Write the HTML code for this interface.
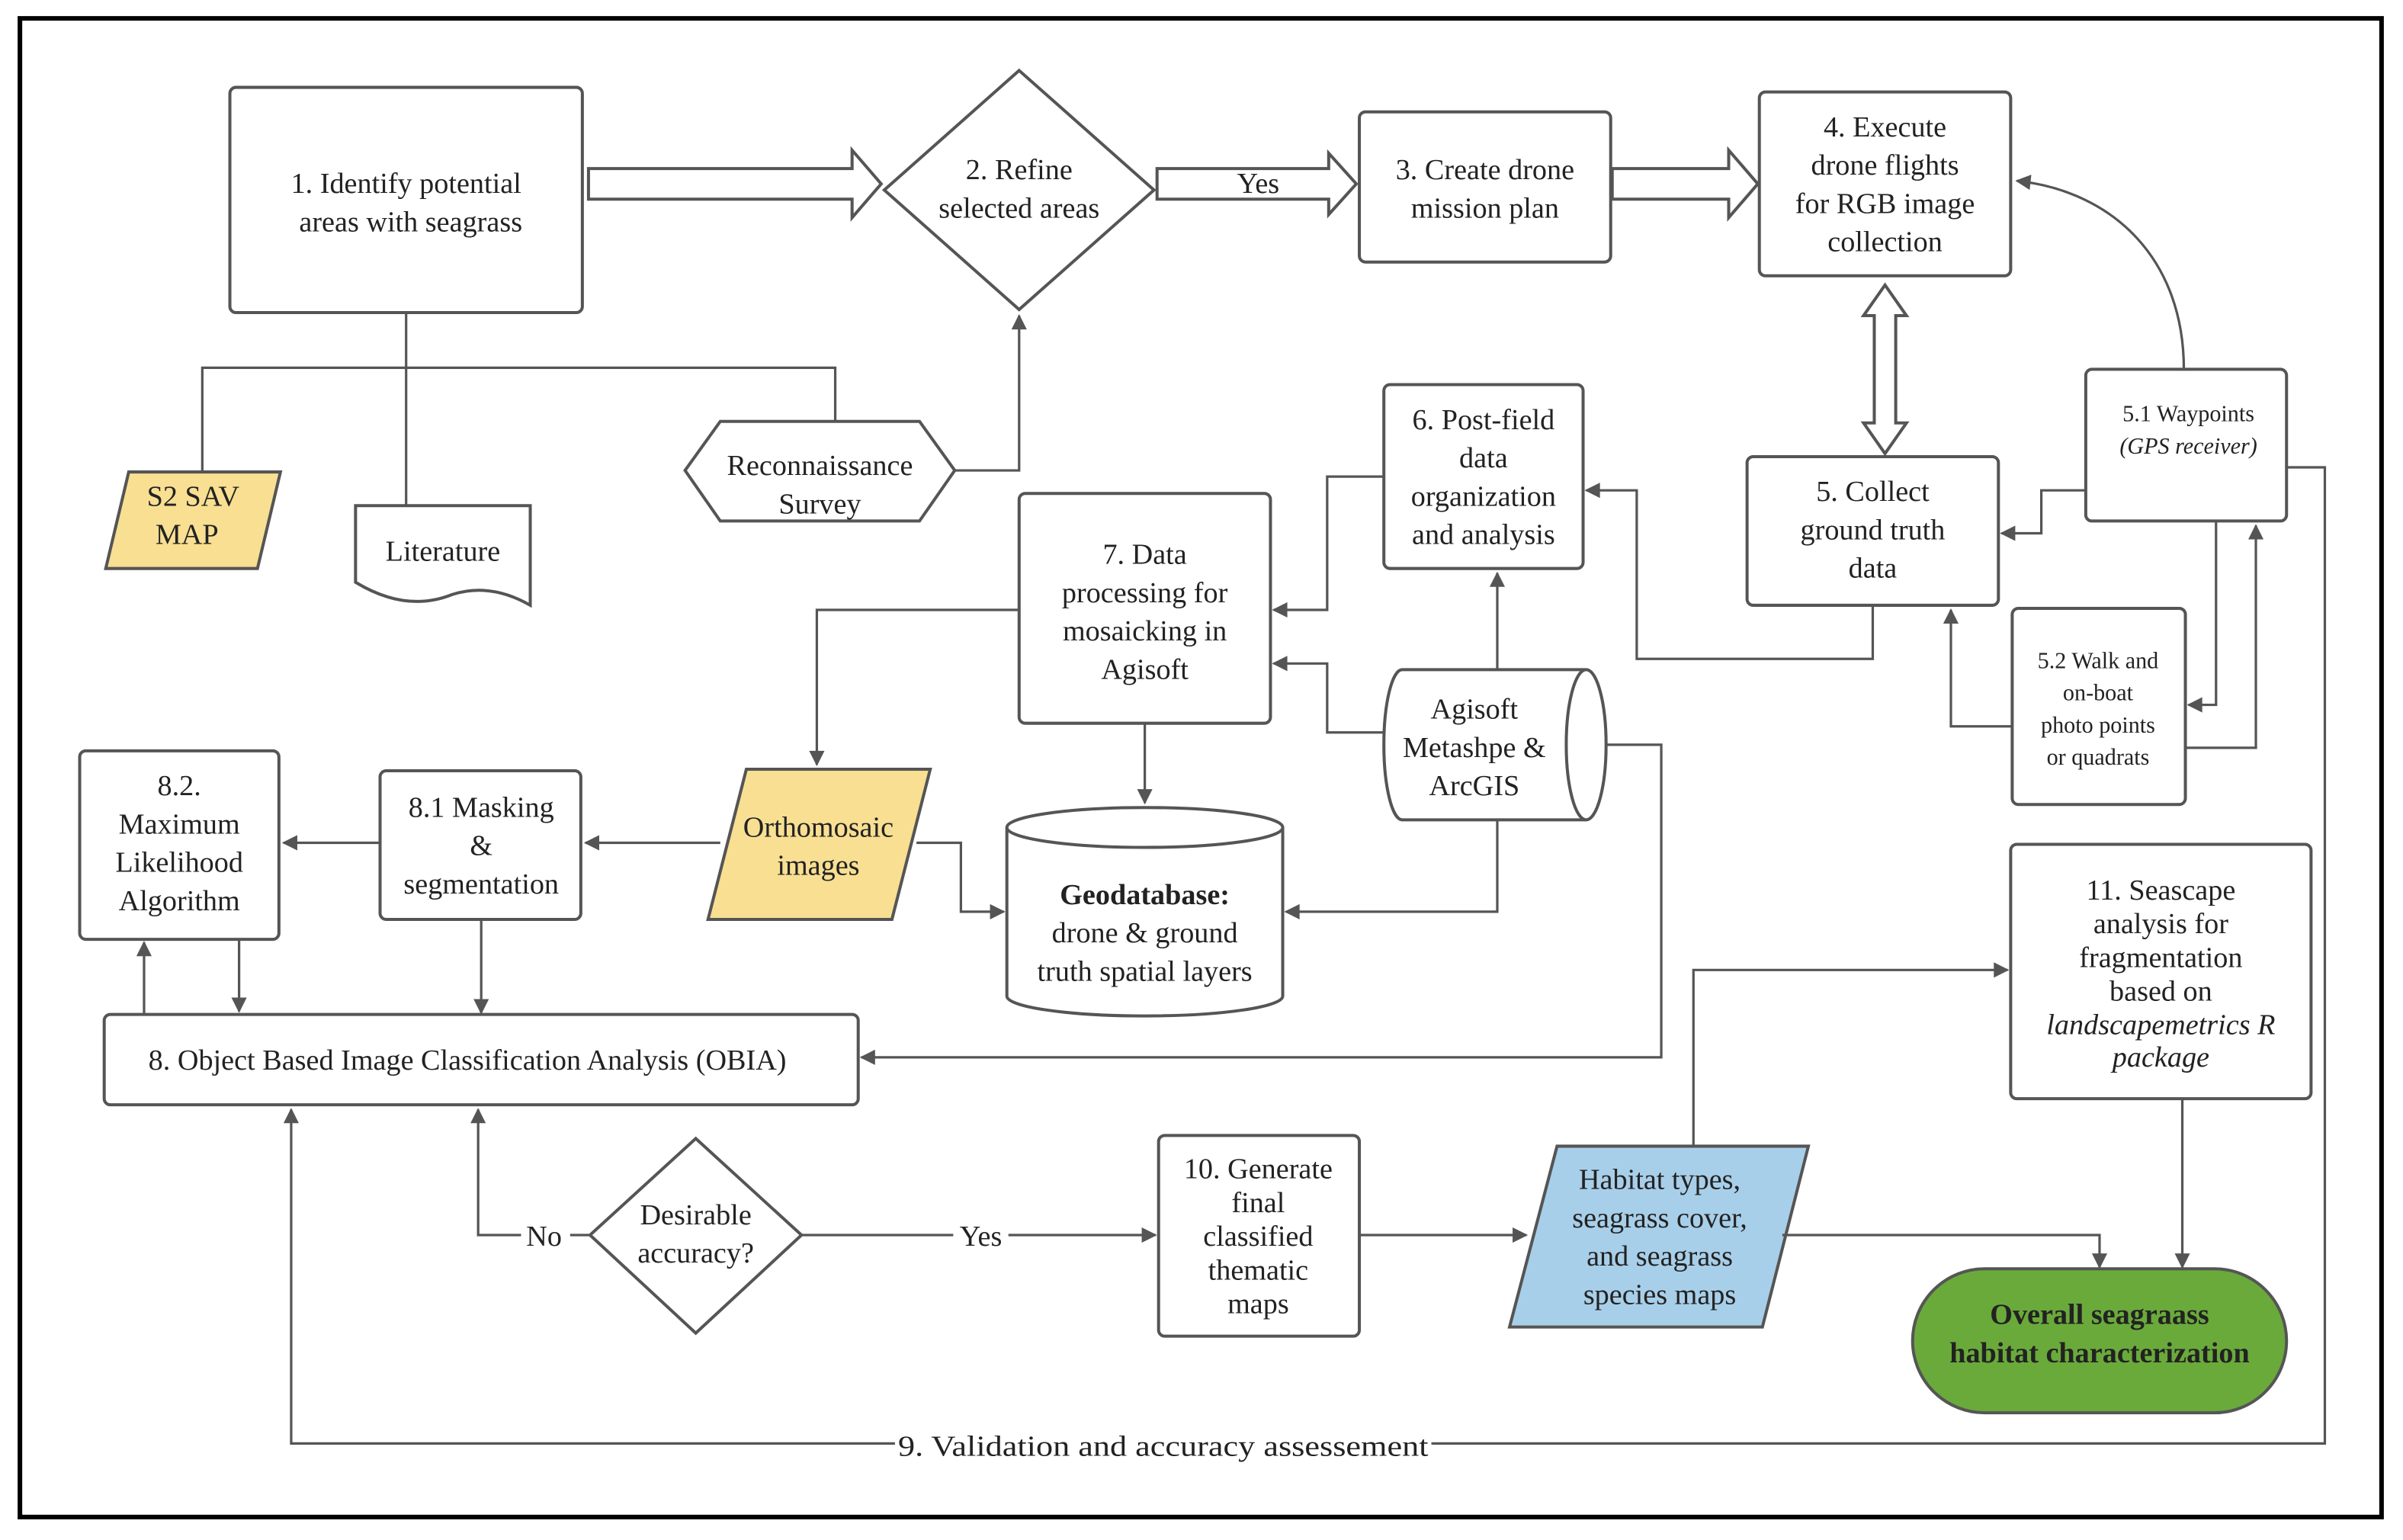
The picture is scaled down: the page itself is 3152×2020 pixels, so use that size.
<!DOCTYPE html>
<html><head><meta charset="utf-8"><style>
html,body{margin:0;padding:0;background:#fff;}
svg{display:block;}
text{font-family:"Liberation Serif",serif;fill:#222;text-anchor:middle;}
</style></head><body>
<svg width="3152" height="2020" viewBox="0 0 1568 1005" preserveAspectRatio="none" xmlns="http://www.w3.org/2000/svg">
<defs>
<marker id="b" viewBox="0 0 10 10" refX="9" refY="5" markerWidth="12" markerHeight="10" orient="auto" markerUnits="userSpaceOnUse"><path d="M0,0 L10,5 L0,10 z" fill="#555"/></marker>
</defs>
<rect x="0" y="0" width="1568" height="1005" fill="#fff"/>
<rect x="13" y="12" width="1541" height="978" fill="none" stroke="#000" stroke-width="3"/>
<g fill="none" stroke="#555" stroke-width="2">
<rect x="150" y="57" width="230" height="147" rx="4" fill="#fff"/>
<polygon points="665,46 753,124 665,202 577,124" fill="#fff"/>
<rect x="887" y="73" width="164" height="98" rx="4" fill="#fff"/>
<rect x="1148" y="60" width="164" height="120" rx="4" fill="#fff"/>
<rect x="1140" y="298" width="164" height="97" rx="4" fill="#fff"/>
<rect x="1361" y="241" width="131" height="99" rx="4" fill="#fff"/>
<rect x="1313" y="397" width="113" height="128" rx="4" fill="#fff"/>
<rect x="903" y="251" width="130" height="120" rx="4" fill="#fff"/>
<rect x="665" y="322" width="164" height="150" rx="4" fill="#fff"/>
<rect x="248" y="503" width="131" height="97" rx="4" fill="#fff"/>
<rect x="52" y="490" width="130" height="123" rx="4" fill="#fff"/>
<rect x="68" y="662" width="492" height="59" rx="4" fill="#fff"/>
<polygon points="454,743 523,806 454,870 385,806" fill="#fff"/>
<rect x="756" y="741" width="131" height="131" rx="4" fill="#fff"/>
<rect x="1312" y="551" width="196" height="166" rx="4" fill="#fff"/>
<rect x="1248" y="828" width="244" height="94" rx="47" fill="#6aaa3b"/>
<polygon points="69,371 84,308 183,308 168,371" fill="#f8df92"/>
<polygon points="462,600 487,502 607,502 582,600" fill="#f8df92"/>
<polygon points="985,866 1016,748 1180,748 1150,866" fill="#a8cfe9"/>
<path d="M232,330 H346 V395 Q320,380 295,388 Q265,400 232,380 Z" fill="#fff"/>
<polygon points="447,307 470,275 600,275 623,307 600,340 470,340" fill="#fff"/>
<path d="M657,540 V650 A90,13 0 0 0 837,650 V540" fill="#fff"/>
<ellipse cx="747" cy="540" rx="90" ry="13" fill="#fff"/>
<path d="M1035,437 H915 A12,49 0 0 0 915,535 H1035" fill="#fff"/>
<ellipse cx="1035" cy="486" rx="13" ry="49" fill="#fff"/>
<path d="M384,110 H556 V98 L575,120 L556,142 V130 H384 Z" fill="#fff"/>
<path d="M755,110 H867 V100 L885,120 L867,140 V130 H755 Z" fill="#fff"/>
<path d="M1052,110 H1128 V98 L1147,120 L1128,142 V130 H1052 Z" fill="#fff"/>
<path d="M1223,206 V276 H1216 L1230,296 L1244,276 H1237 V206 H1244 L1230,186 L1216,206 Z" fill="#fff"/>
</g>
<g fill="none" stroke="#555" stroke-width="1.6">
<path d="M265,204 V330"/>
<path d="M132,308 V240 H545 V275"/>
<path d="M623,307 H665 V206" marker-end="url(#b)"/>
<path d="M1425,241 C1425,170 1380,125 1316,118" marker-end="url(#b)"/>
<path d="M1361,320 H1332 V348 H1306" marker-end="url(#b)"/>
<path d="M1446,340 V460 H1428" marker-end="url(#b)"/>
<path d="M1426,488 H1472 V343" marker-end="url(#b)"/>
<path d="M1313,474 H1273 V398" marker-end="url(#b)"/>
<path d="M1222,395 V430 H1068 V320 H1035" marker-end="url(#b)"/>
<path d="M977,437 V374" marker-end="url(#b)"/>
<path d="M903,478 H866 V433 H831" marker-end="url(#b)"/>
<path d="M903,311 H866 V398 H831" marker-end="url(#b)"/>
<path d="M665,398 H533 V499" marker-end="url(#b)"/>
<path d="M747,472 V524" marker-end="url(#b)"/>
<path d="M977,535 V595 H839" marker-end="url(#b)"/>
<path d="M1048,486 H1084 V690 H562" marker-end="url(#b)"/>
<path d="M598,550 H627 V595 H655" marker-end="url(#b)"/>
<path d="M470,550 H382" marker-end="url(#b)"/>
<path d="M248,550 H185" marker-end="url(#b)"/>
<path d="M314,600 V661" marker-end="url(#b)"/>
<path d="M156,613 V660" marker-end="url(#b)"/>
<path d="M94,662 V615" marker-end="url(#b)"/>
<path d="M385,806 H312 V724" marker-end="url(#b)"/>
<path d="M523,806 H754" marker-end="url(#b)"/>
<path d="M887,806 H996" marker-end="url(#b)"/>
<path d="M1105,748 V633 H1310" marker-end="url(#b)"/>
<path d="M1163,806 H1370 V827" marker-end="url(#b)"/>
<path d="M1424,717 V827" marker-end="url(#b)"/>
<path d="M1492,305 H1517 V942 H190 V724" marker-end="url(#b)"/>
</g>
<rect x="340" y="796" width="32" height="20" fill="#fff"/>
<rect x="622" y="796" width="36" height="20" fill="#fff"/>
<rect x="584" y="932" width="350" height="22" fill="#fff"/>
<g font-size="19">
<text x="265" y="126">1. Identify potential</text><text x="268" y="151">areas with seagrass</text>
<text x="665" y="117">2. Refine</text><text x="665" y="142">selected areas</text>
<text x="821" y="126">Yes</text>
<text x="969" y="117">3. Create drone</text><text x="969" y="142">mission plan</text>
<text x="1230" y="89">4. Execute</text><text x="1230" y="114">drone flights</text><text x="1230" y="139">for RGB image</text><text x="1230" y="164">collection</text>
<text x="1222" y="327">5. Collect</text><text x="1222" y="352">ground truth</text><text x="1222" y="377">data</text>
<text x="968" y="280">6. Post-field</text><text x="968" y="305">data</text><text x="968" y="330">organization</text><text x="968" y="355">and analysis</text>
<text x="747" y="368">7. Data</text><text x="747" y="393">processing for</text><text x="747" y="418">mosaicking in</text><text x="747" y="443">Agisoft</text>
<text x="962" y="469">Agisoft</text><text x="962" y="494">Metashpe &amp;</text><text x="962" y="519">ArcGIS</text>
<text x="747" y="590" font-weight="bold">Geodatabase:</text><text x="747" y="615">drone &amp; ground</text><text x="747" y="640">truth spatial layers</text>
<text x="534" y="546">Orthomosaic</text><text x="534" y="571">images</text>
<text x="314" y="533">8.1 Masking</text><text x="314" y="558">&amp;</text><text x="314" y="583">segmentation</text>
<text x="117" y="519">8.2.</text><text x="117" y="544">Maximum</text><text x="117" y="569">Likelihood</text><text x="117" y="594">Algorithm</text>
<text x="305" y="698">8. Object Based Image Classification Analysis (OBIA)</text>
<text x="454" y="799">Desirable</text><text x="454" y="824">accuracy?</text>
<text x="355" y="813">No</text><text x="640" y="813">Yes</text>
<text x="821" y="769">10. Generate</text><text x="821" y="791">final</text><text x="821" y="813">classified</text><text x="821" y="835">thematic</text><text x="821" y="857">maps</text>
<text x="1083" y="776">Habitat types,</text><text x="1083" y="801">seagrass cover,</text><text x="1083" y="826">and seagrass</text><text x="1083" y="851">species maps</text>
<text x="1410" y="587">11. Seascape</text><text x="1410" y="609">analysis for</text><text x="1410" y="631">fragmentation</text><text x="1410" y="653">based on</text>
<text x="1410" y="675" font-style="italic">landscapemetrics R</text><text x="1410" y="696" font-style="italic">package</text>
<text x="1370" y="864" font-weight="bold">Overall  seagraass</text><text x="1370" y="889" font-weight="bold">habitat characterization</text>
<text x="126" y="330">S2 SAV</text><text x="122" y="355">MAP</text>
<text x="289" y="366">Literature</text>
<text x="535" y="310">Reconnaissance</text><text x="535" y="335">Survey</text>
<text x="759" y="950" textLength="346" lengthAdjust="spacingAndGlyphs">9. Validation and accuracy assessement</text>
</g>
<g font-size="15">
<text x="1428" y="275">5.1 Waypoints</text><text x="1428" y="296" font-style="italic">(GPS receiver)</text>
<text x="1369" y="436">5.2 Walk and</text><text x="1369" y="457">on-boat</text><text x="1369" y="478">photo points</text><text x="1369" y="499">or quadrats</text>
</g>
</svg>
</body></html>
